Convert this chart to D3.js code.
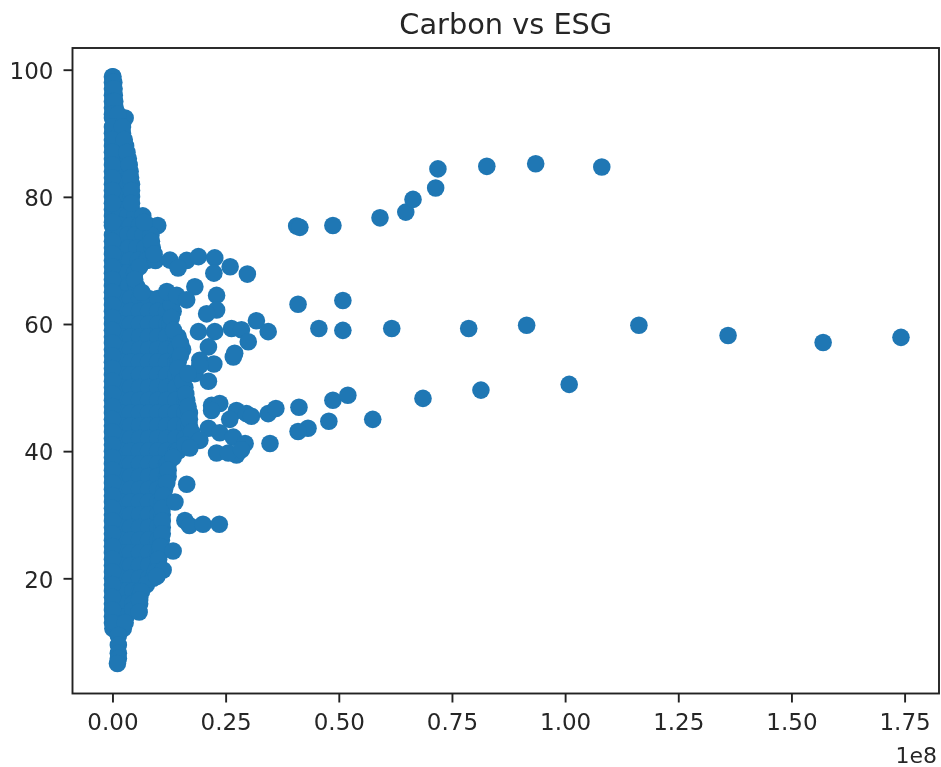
<!DOCTYPE html>
<html lang="en">
<head>
    <meta charset="UTF-8">
    <title>Carbon vs ESG</title>
    <script src="https://d3js.org/d3.v7.min.js"></script>
    <style>
        body { margin: 0; background: #fff; }
        svg { filter: blur(0.5px); }
        text { font-family: "DejaVu Sans", sans-serif; fill: #262626; }
        .axis text { font-size: 23px; }
        .axis path, .axis line { stroke: #222; stroke-width: 1.9px; }
    </style>
</head>
<body>
    <svg id="chart" width="941" height="767"></svg>
    <script>
        // carbon is in millions (the axis shows it as 1e8)
        const xTicks = [0, 25, 50, 75, 100, 125, 150, 175];
        const xTickLabels = ["0.00", "0.25", "0.50", "0.75", "1.00", "1.25", "1.50", "1.75"];
        const yTicks = [20, 40, 60, 80, 100];

        // the solid mass near zero, one row of carbon values per ESG score
        const denseEsg = [98.9, 98, 96, 94, 92.4, 90, 88, 86, 84, 82, 80, 78, 77, 75.5, 74, 72, 70, 68, 66, 64, 62, 60, 58, 56, 54, 52, 50, 48, 46, 44, 42, 40, 38, 36, 34, 32, 30, 28, 26, 24, 22, 20, 18, 16, 14, 12.1];
        const denseCarbon = [
            [0, 0.1], [0, 0.3], [0, 0.4], [0, 0.6], [0, 1.5, 2.8], [0, 1.1, 2.2], [0, 1.5, 2.9],
            [0, 1.2, 2.4, 3.5], [0, 1.3, 2.6, 3.9], [0, 1.4, 2.8, 4.2], [0, 1.4, 2.8, 4.2], [0, 1.4, 2.8, 4.2],
            [0, 1.7, 3.4, 5, 6.7], [0, 2, 4, 6, 8, 10], [0, 1.7, 3.4, 5.1, 6.8, 8.5], [0, 1.8, 3.6, 5.4, 7.2, 8.8],
            [0, 1.9, 3.8, 5.7, 7.6, 9.5], [0, 1.6, 3.2, 4.9], [0, 1.8, 3.6, 5.3], [0, 2, 4, 6, 8, 10],
            [0, 2, 4, 6, 8, 10, 12, 13.4], [0, 2, 4, 6, 8, 10, 12, 12.7], [0, 2, 4, 6, 8, 10, 12, 14, 14.5],
            [0, 2, 4, 6, 8, 10, 12, 14, 15.5], [0, 2, 4, 6, 8, 10, 12, 14, 14.5], [0, 2, 4, 6, 8, 10, 12, 14, 15],
            [0, 2, 4, 6, 8, 10, 12, 14, 16], [0, 2, 4, 6, 8, 10, 12, 14, 16, 16.4], [0, 2, 4, 6, 8, 10, 12, 14, 16, 17],
            [0, 2, 4, 6, 8, 10, 12, 14, 16, 17], [0, 2, 4, 6, 8, 10, 12, 14, 16, 18], [0, 2, 4, 6, 8, 10, 12, 14, 14.5],
            [0, 2, 4, 6, 8, 10, 12, 12.3], [0, 2, 4, 6, 8, 10, 12, 12.3], [0, 2, 4, 6, 8, 10, 11.5], [0, 2, 4, 6, 8, 10, 11],
            [0, 2, 4, 6, 8, 10, 11], [0, 2, 4, 6, 8, 10, 11], [0, 2, 4, 6, 8, 10, 10.8], [0, 2, 4, 6, 8, 10, 10.5],
            [0, 2, 4, 6, 8, 10], [0, 2, 4, 6, 8, 9], [0, 1.5, 3, 4.5, 6], [0, 1.5, 3, 4.5, 6], [0, 1.5, 3], [0.1, 1.2, 2.4]
        ];

        // in-between scores: the left and right edge of the mass at each one
        const edgeEsg = [97, 95, 93, 91, 89, 87, 85, 83, 81, 79, 76, 73, 71, 69, 67, 65, 63, 61, 59, 57, 55, 53, 51, 49, 47, 45, 43, 41, 39, 37, 35, 33, 31, 29, 27, 25, 23, 21, 19, 17, 15, 13];
        const edgeCarbon = [0.35, 0.5, 1.2, 2.2, 2.6, 3.2, 3.7, 4, 4.2, 4.2, 7, 8.6, 9.2, 6, 4.9, 6.5, 13, 13, 13.5, 15, 15, 14.5, 15.5, 16.2, 16.7, 17, 17.5, 16, 13.4, 12.3, 12, 11.2, 11, 11, 11, 10.6, 10.2, 9.5, 7.5, 6, 4.5, 2.8];

        // separate points around the edge of the mass and further out
        const looseCarbon = [12.7, 16.4, 19, 22.6, 26, 29.8, 14.5, 22.4, 18.2, 12, 14.2, 23, 16.4, 23, 20.8, 31.8, 34.4, 26.3, 28.5, 30, 19, 22.6, 21.2, 26.7, 27, 19.3, 22.4, 18.2, 21.2, 19.3, 16.7, 21.9, 23.7, 21.9, 27.4, 25.9, 29.6, 30.7, 34.4, 36.1, 21.2, 23.7, 26.7, 29.3, 27.4, 23, 25.6, 28.5, 34.8, 19.3, 17.1, 16.4, 13.8, 16, 17, 20, 23.6, 13.4, 11.2, 9.8, 6.4, 6, 5.9, 1.3, 1.3, 1.3, 1.3, 1.1, 40.7, 41.4, 48.7, 59.1, 64.8, 66.4, 71.4, 71.9, 82.7, 93.5, 108.1, 41, 50.9, 45.6, 50.9, 61.7, 78.7, 91.5, 116.3, 136, 157, 174.2, 41.2, 48.7, 52, 68.6, 81.4, 100.9, 57.5, 47.8, 43.2, 41];
        const looseEsg = [70.05, 70, 70.6, 70.4, 69, 67.85, 68.8, 68, 65.85, 65.1, 64.5, 64.5, 63.8, 62.2, 61.6, 60.5, 58.8, 59.3, 59.1, 57.2, 58.8, 58.8, 56.4, 54.8, 55.4, 54.3, 53.7, 52.2, 51, 53.5, 52.2, 47.2, 47.5, 46.4, 46.4, 45, 45.9, 45.5, 45.9, 46.7, 43.6, 42.9, 42.2, 41.2, 39.4, 39.7, 39.7, 40.2, 41.2, 41.7, 40.5, 34.8, 32, 29.1, 28.3, 28.5, 28.5, 24.3, 21.3, 20.3, 17.9, 16.6, 14.7, 11, 9.5, 8.2, 7.4, 6.6, 75.4, 75.2, 75.5, 76.7, 77.6, 79.6, 81.4, 84.4, 84.8, 85.2, 84.7, 63.1, 63.7, 59.3, 59, 59.3, 59.3, 59.8, 59.8, 58.2, 57.1, 57.9, 46.9, 48, 48.8, 48.3, 49.6, 50.5, 45, 44.7, 43.6, 43.1];

        const points = denseEsg.flatMap((e, i) => denseCarbon[i].map(c => [c, e]))
            .concat(edgeEsg.flatMap((e, i) => [[0, e], [edgeCarbon[i], e]]))
            .concat(looseCarbon.map((c, i) => [c, looseEsg[i]]));

        const svg = d3.select("#chart");
        const plotLeft = 72.5, plotRight = 939, plotTop = 48, plotBottom = 693.5;

        const x = d3.scaleLinear().domain([-8.83, 182.6]).range([plotLeft, plotRight]);
        const y = d3.scaleLinear().domain([20, 100]).range([578.3, 69.7]);

        svg.append("g")
            .selectAll("circle")
            .data(points)
            .enter()
            .append("circle")
            .attr("cx", d => x(d[0]))
            .attr("cy", d => y(d[1]))
            .attr("r", 8.8)
            .attr("fill", "#1f77b4");

        const xAxis = svg.append("g")
            .attr("class", "axis")
            .attr("transform", `translate(0,${plotBottom})`)
            .call(d3.axisBottom(x).tickValues(xTicks).tickFormat((d, i) => xTickLabels[i]).tickSize(9).tickPadding(11.5));
        xAxis.select(".domain").remove();

        const yAxis = svg.append("g")
            .attr("class", "axis")
            .attr("transform", `translate(${plotLeft},0)`)
            .call(d3.axisLeft(y).tickValues(yTicks).tickSize(9).tickPadding(10));
        yAxis.select(".domain").remove();
        yAxis.selectAll("text").attr("dy", "0.38em");

        svg.append("rect")
            .attr("x", plotLeft).attr("y", plotTop)
            .attr("width", plotRight - plotLeft).attr("height", plotBottom - plotTop)
            .attr("fill", "none").attr("stroke", "#222").attr("stroke-width", 1.9);

        svg.append("text")
            .attr("x", (plotLeft + plotRight) / 2).attr("y", 33.5)
            .attr("text-anchor", "middle")
            .style("font-size", "28.8px")
            .text("Carbon vs ESG");

        svg.append("text")
            .attr("x", 937).attr("y", 763)
            .attr("text-anchor", "end")
            .style("font-size", "22px")
            .text("1e8");
    </script>
</body>
</html>
